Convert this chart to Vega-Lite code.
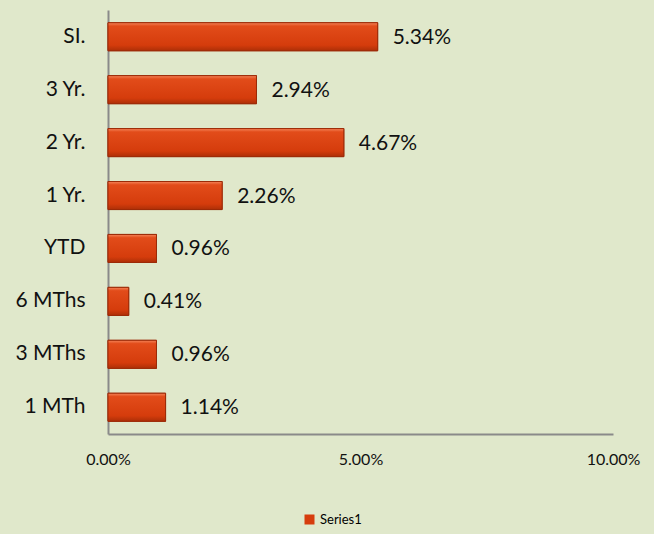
{
  "$schema": "https://vega.github.io/schema/vega-lite/v6.json",
  "autosize": {"type": "none"},
  "width": 505,
  "height": 424,
  "padding": {"left": 108, "top": 10, "right": 41, "bottom": 100},
  "background": "#e0e8cb",
  "config": {
    "view": {"stroke": null},
    "font": "Lato",
    "axis": {"grid": false, "ticks": false, "domainColor": "#8a8a8a", "domainWidth": 2, "labelColor": "#111111", "labelFont": "Lato"}
  },
  "data": {
    "values": [
      {"period": "SI.", "value": 0.0534, "series": "Series1"},
      {"period": "3 Yr.", "value": 0.0294, "series": "Series1"},
      {"period": "2 Yr.", "value": 0.0467, "series": "Series1"},
      {"period": "1 Yr.", "value": 0.0226, "series": "Series1"},
      {"period": "YTD", "value": 0.0096, "series": "Series1"},
      {"period": "6 MThs", "value": 0.0041, "series": "Series1"},
      {"period": "3 MThs", "value": 0.0096, "series": "Series1"},
      {"period": "1 MTh", "value": 0.0114, "series": "Series1"}
    ]
  },
  "encoding": {
    "y": {
      "field": "period", "type": "nominal",
      "sort": ["SI.", "3 Yr.", "2 Yr.", "1 Yr.", "YTD", "6 MThs", "3 MThs", "1 MTh"],
      "scale": {"paddingInner": 0.47, "paddingOuter": 0.24},
      "axis": {"title": null, "labelFontSize": 21, "labelPadding": 23}
    },
    "x": {
      "field": "value", "type": "quantitative",
      "scale": {"domain": [0, 0.1], "nice": false},
      "axis": {"title": null, "values": [0, 0.05, 0.1], "format": ".2%", "labelFontSize": 16, "labelPadding": 17, "labelFlush": false}
    }
  },
  "layer": [
    {
      "mark": {"type": "bar", "stroke": "#9c2b08", "strokeWidth": 1},
      "encoding": {
        "color": {
          "field": "series", "type": "nominal",
          "scale": {"range": ["#d63d0d"]},
          "legend": {"title": null, "orient": "none", "legendX": 195, "legendY": 503, "symbolType": "square", "symbolSize": 100, "labelFontSize": 13, "labelFont": "Lato", "symbolStrokeWidth": 0, "symbolOpacity": 1}
        }
      }
    },
    {
      "mark": {"type": "bar", "stroke": "#9c2b08", "strokeWidth": 1, "fill": {"gradient": "linear", "x1": 0, "y1": 0, "x2": 0, "y2": 1, "stops": [{"offset": 0, "color": "#f5855a"}, {"offset": 0.12, "color": "#e24c1a"}, {"offset": 0.8, "color": "#d53c0c"}, {"offset": 1, "color": "#ad2f07"}]}}
    },
    {
      "mark": {"type": "text", "align": "left", "baseline": "middle", "dx": 15, "dy": 1, "fontSize": 21, "font": "Lato", "color": "#111111"},
      "encoding": {
        "text": {"field": "value", "type": "quantitative", "format": ".2%"}
      }
    }
  ]
}
